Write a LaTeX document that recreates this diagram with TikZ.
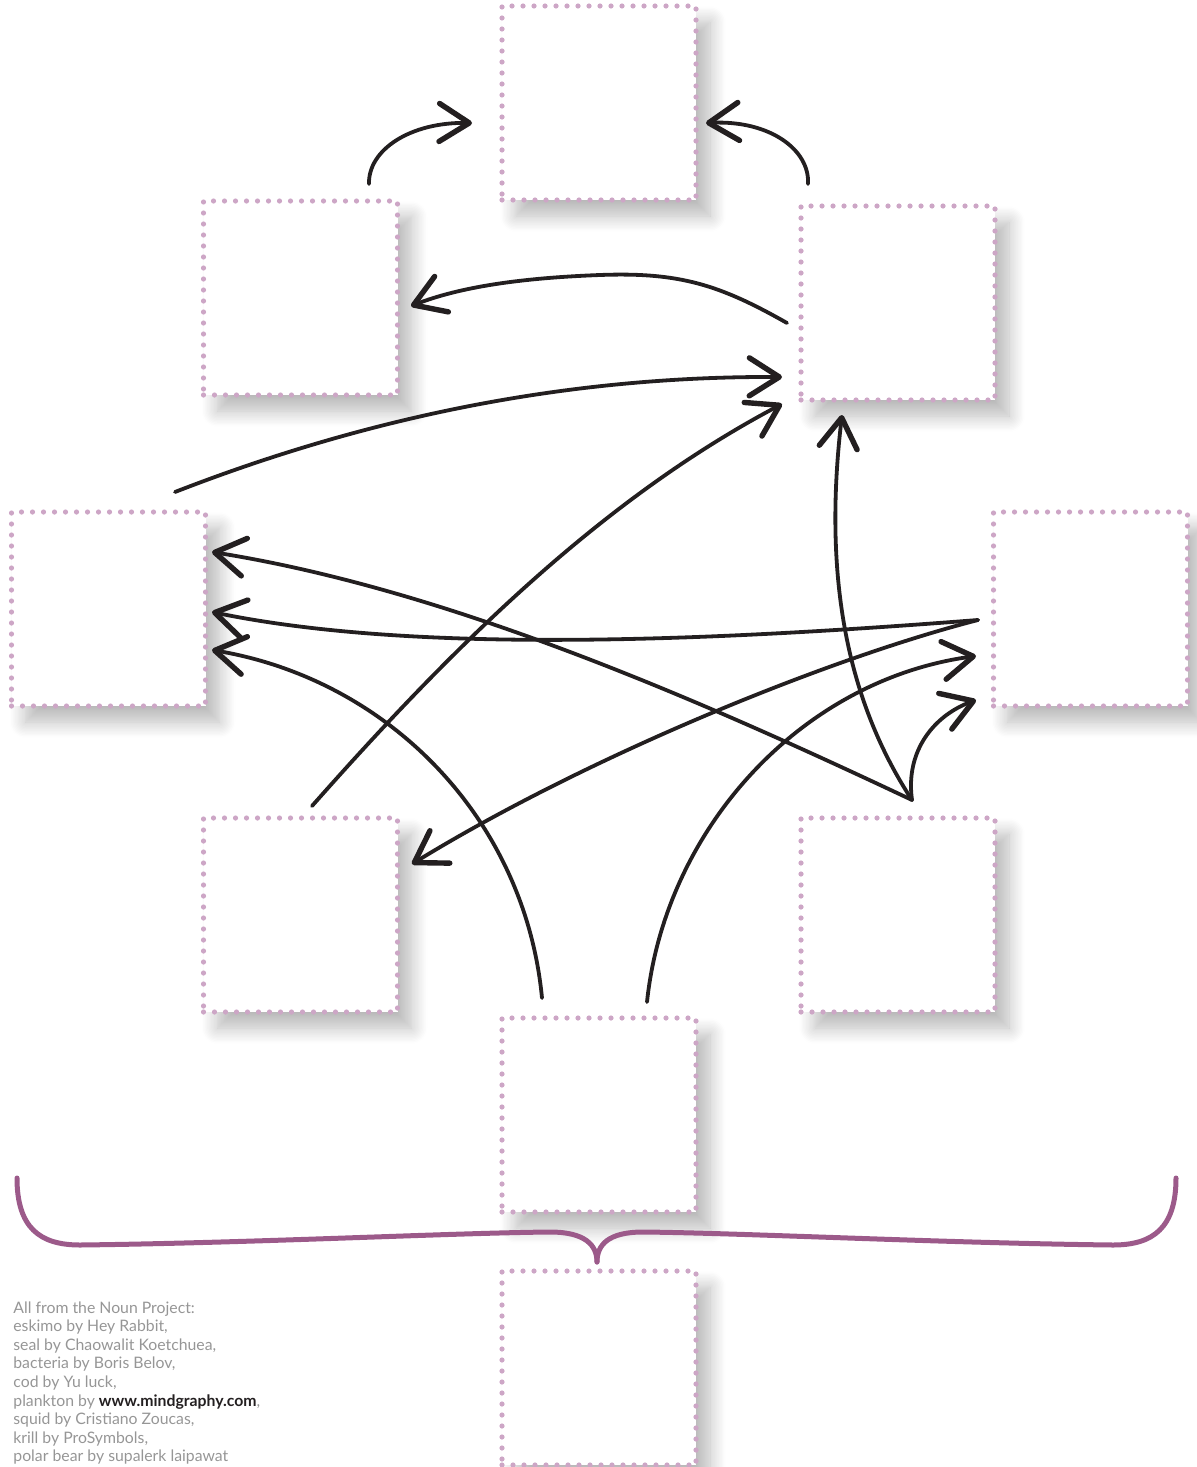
\documentclass[tikz,border=0pt]{standalone}
\usepackage{fontspec}
\newfontfamily\creditfont{Lato}
\usetikzlibrary{arrows.meta,shadows.blur}
\definecolor{dotpink}{RGB}{205,166,198}
\definecolor{ink}{RGB}{35,31,32}
\definecolor{plum}{RGB}{156,90,138}
\definecolor{creditgray}{RGB}{150,150,150}
\tikzset{
  box/.style={draw=dotpink, fill=white, line width=2.6pt, line cap=round,
    dash pattern=on 0pt off 5.5pt, minimum width=97pt, minimum height=97pt,
    inner sep=0pt,
    blur shadow={shadow xshift=7pt, shadow yshift=-8pt, shadow blur radius=8pt,
      shadow blur steps=12, shadow opacity=28}},
  link/.style={draw=ink, line width=1.9pt, line cap=round,
    -{Straight Barb[length=15pt, width=19pt, line width=2.7pt, round]}},
  bracepath/.style={draw=plum, line width=2.5pt, line cap=round, line join=round},
}
\begin{document}
\begin{tikzpicture}[x=0.5pt, y=-0.5pt]
\useasboundingbox (0,0) rectangle (1196,1467);

% boxes
\node[box] (top) at (599,103) {};
\node[box] (ul)  at (300.5,298) {};
\node[box] (ur)  at (898,303) {};
\node[box] (ml)  at (108.5,609) {};
\node[box] (mr)  at (1090.5,609) {};
\node[box] (ll)  at (300.5,915) {};
\node[box] (lr)  at (898,915) {};
\node[box] (bc)  at (599,1115) {};
\node[box] (bb)  at (599,1368) {};

% connector end points
\coordinate (ulTop)   at (369,184);
\coordinate (topW)    at (472,123);
\coordinate (urTop)   at (808,184);
\coordinate (topE)    at (706,123);
\coordinate (urW)     at (787,323);
\coordinate (ulE)     at (411,306);
\coordinate (mlTop)   at (175,492);
\coordinate (urW1)    at (782,377);
\coordinate (llTop)   at (312,806);
\coordinate (urW2)    at (782,404);
\coordinate (lrTop)   at (912,800);
\coordinate (urS)     at (842,415);
\coordinate (mlE1)    at (212,552);
\coordinate (mrW)     at (978,620);
\coordinate (mlE2)    at (212,612);
\coordinate (bcL)     at (542,998);
\coordinate (mlE3)    at (212,650);
\coordinate (llE)     at (412,864);
\coordinate (bcR)     at (647,1002);
\coordinate (mrW1)    at (976,656);
\coordinate (mrW2)    at (976,700);

% connectors
\draw[link] (ulTop) .. controls (368,150) and (410,122) .. (topW);
\draw[link] (urTop) .. controls (810,150) and (770,120) .. (topE);
\draw[link] (urW) .. controls (720,285) and (680,272) .. (600,275)
               .. controls (520,278) and (460,287) .. (ulE);
\draw[link] (mlTop) .. controls (360,420) and (560,376) .. (urW1);
\draw[link] (llTop) .. controls (450,650) and (600,500) .. (urW2);
\draw[link] (lrTop) .. controls (840,690) and (825,560) .. (urS);
\draw[link] (lrTop) .. controls (700,700) and (450,590) .. (mlE1);
\draw[link] (mrW) .. controls (720,640) and (420,655) .. (mlE2);
\draw[link] (bcL) .. controls (525,820) and (390,680) .. (mlE3);
\draw[link] (mrW) .. controls (830,658) and (590,755) .. (llE);
\draw[link] (bcR) .. controls (665,830) and (800,680) .. (mrW1);
\draw[link] (lrTop) .. controls (905,750) and (935,715) .. (mrW2);

% curly brace
\coordinate (braceL) at (17,1178);
\coordinate (braceR) at (1176,1178);
\coordinate (braceTip) at (597,1262);
\draw[bracepath] (braceL) .. controls (17,1228) and (40,1245) .. (80,1245)
   .. controls (250,1243) and (450,1233) .. (550,1232)
   .. controls (585,1232) and (597,1245) .. (braceTip);
\draw[bracepath] (braceR) .. controls (1176,1228) and (1153,1245) .. (1113,1245)
   .. controls (943,1243) and (743,1233) .. (643,1232)
   .. controls (608,1232) and (597,1245) .. (braceTip);

% credits
\node[anchor=north west, inner sep=0pt, align=left, text=creditgray,
      font=\creditfont\fontsize{7.9pt}{9.3pt}\selectfont] (credits) at (13,1301)
  {All from the Noun Project:\\
   eskimo by Hey Rabbit,\\
   seal by Chaowalit Koetchuea,\\
   bacteria by Boris Belov,\\
   cod by Yu luck,\\
   plankton by {\bfseries\color{ink}www.mindgraphy.com},\\
   squid by Cristiano Zoucas,\\
   krill by ProSymbols,\\
   polar bear by supalerk laipawat};
\end{tikzpicture}
\end{document}
